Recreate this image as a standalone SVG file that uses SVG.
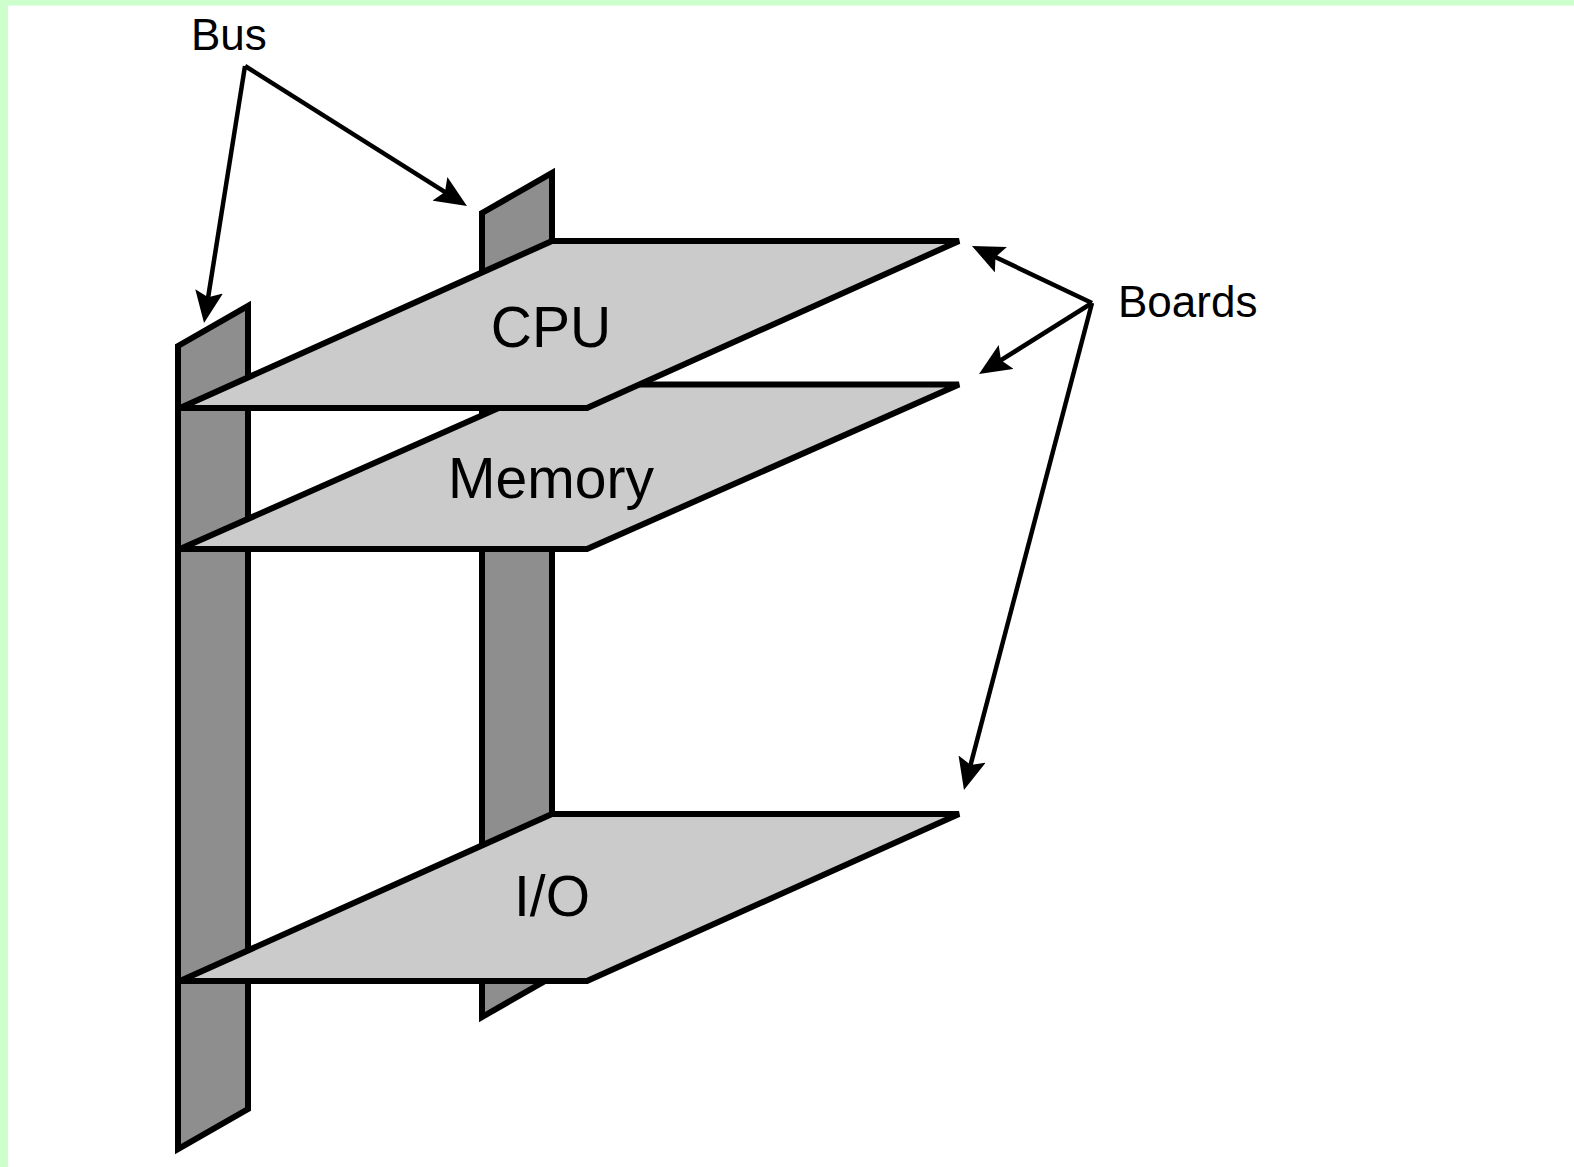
<svg xmlns="http://www.w3.org/2000/svg" width="1574" height="1167" viewBox="0 0 1574 1167">
<defs>
<style>
.bus{fill:#8e8e8e;stroke:#000;stroke-width:6;stroke-linejoin:miter}
.board{fill:#cbcbcb;stroke:#000;stroke-width:6;stroke-linejoin:miter}
.lead{fill:none;stroke:#000;stroke-width:4.500}
.lbl{font-family:"Liberation Sans",Arial,sans-serif;fill:#000}
.s{font-size:44px}
.b{font-size:57px;text-anchor:middle}
</style>
<marker id="ah" markerUnits="userSpaceOnUse" viewBox="0 0 32 28" markerWidth="32" markerHeight="28" refX="24" refY="14" orient="auto">
<path d="M0 0L32 14L0 28L6 14Z" fill="#000"/>
</marker>
</defs>
<rect width="1574" height="1167" fill="#fff"/>
<path d="M0 0H1574V5.500H8V1167H0Z" fill="#ccffcc"/>
<g id="bus-right"><path class="bus" d="M482 213L552 173V977L482 1017Z"/></g>
<g id="bus-left"><path class="bus" d="M178 346L248 306V1109L178 1149Z"/></g>
<g id="board-memory"><path class="board" d="M180 549L552 384.500H959L587 549Z"/><text class="lbl b" x="551" y="498">Memory</text></g>
<g id="board-cpu"><path class="board" d="M180 408L552 241H959L587 408Z"/><text class="lbl b" x="551" y="347">CPU</text></g>
<g id="board-io"><path class="board" d="M180 981L552 814H959L587 981Z"/><text class="lbl b" x="552" y="916">I/O</text></g>
<g id="connectors">
<path class="lead" d="M245 66L205.300 315.100" marker-end="url(#ah)"/>
<path class="lead" d="M245 66L460.200 201.700" marker-end="url(#ah)"/>
<path class="lead" d="M1092 303L979.200 249.400" marker-end="url(#ah)"/>
<path class="lead" d="M1092 303L985.800 369.700" marker-end="url(#ah)"/>
<path class="lead" d="M1092 303L966 782.300" marker-end="url(#ah)"/>
</g>
<g id="label-bus"><text class="lbl s" x="191" y="50">Bus</text></g>
<g id="label-boards"><text class="lbl s" x="1118" y="317">Boards</text></g>
</svg>
